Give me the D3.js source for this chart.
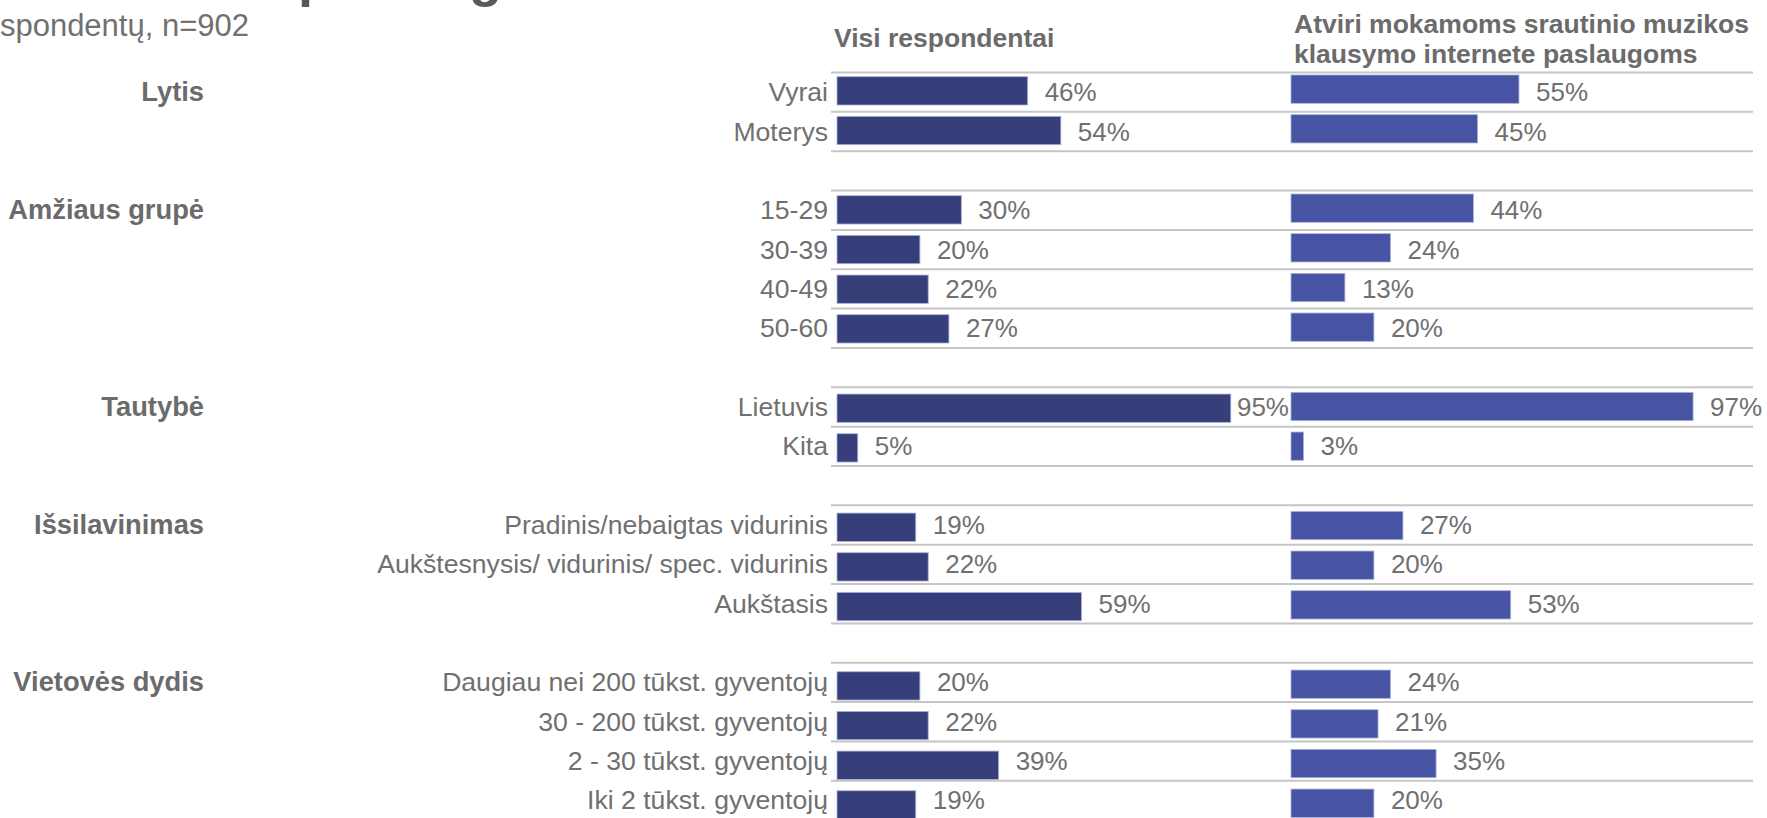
<!DOCTYPE html>
<html>
<head>
<meta charset="utf-8">
<script src="https://cdn.jsdelivr.net/npm/d3@7"></script>
<style>
  html, body { margin: 0; padding: 0; background: #fff; overflow: hidden; }
  svg { display: block; font-family: "Liberation Sans", Arial, sans-serif; }
</style>
</head>
<body>
<svg id="chart"></svg>
<script>
//data
const titleText = 'Atviri mokamoms paslaugoms';
const subtitleText = 'Bazė: visų respondentų, n=902';
const seriesAll = 'Visi respondentai';
const seriesOpen = ['Atviri mokamoms srautinio muzikos', 'klausymo internete paslaugoms'];

const groups = ['Lytis', 'Amžiaus grupė', 'Tautybė', 'Išsilavinimas', 'Vietovės dydis'];
const categories = [
  'Vyrai', 'Moterys',
  '15-29', '30-39', '40-49', '50-60',
  'Lietuvis', 'Kita',
  'Pradinis/nebaigtas vidurinis', 'Aukštesnysis/ vidurinis/ spec. vidurinis', 'Aukštasis',
  'Daugiau nei 200 tūkst. gyventojų', '30 - 200 tūkst. gyventojų', '2 - 30 tūkst. gyventojų', 'Iki 2 tūkst. gyventojų'
];
const categoryGroup = [
  'Lytis', 'Lytis',
  'Amžiaus grupė', 'Amžiaus grupė', 'Amžiaus grupė', 'Amžiaus grupė',
  'Tautybė', 'Tautybė',
  'Išsilavinimas', 'Išsilavinimas', 'Išsilavinimas',
  'Vietovės dydis', 'Vietovės dydis', 'Vietovės dydis', 'Vietovės dydis'
];
const valuesAll  = [46, 54, 30, 20, 22, 27, 95, 5, 19, 22, 59, 20, 22, 39, 19];
const valuesOpen = [55, 45, 44, 24, 13, 20, 97, 3, 27, 20, 53, 24, 21, 35, 20];

//config
const W = 1767, H = 818;
const colorAll = '#373f7a';
const colorOpen = '#4754a4';
const textGray = '#707070';
const lineGray = '#c6c6c6';

const svg = d3.select('#chart').attr('width', W).attr('height', H);

// rows, with an empty row between groups
const rows = [];
categories.forEach((c, i) => {
  if (i > 0 && categoryGroup[i] !== categoryGroup[i - 1]) rows.push({ key: 'gap' + i, blank: true });
  rows.push({ key: c, i: i, group: categoryGroup[i] });
});
const rowIndex = new Map(rows.map((r, k) => [r.key, k]));

//scales
const yBar = d3.scaleBand()
  .domain(rows.map(r => r.key))
  .range([75, 75 + rows.length * 39.67])
  .paddingInner(0).paddingOuter(0);
const barH = 28.3;

const yLine = d3.scaleLinear()
  .domain([0, rows.length])
  .range([72.5, 72.5 + rows.length * 39.35]);

const xAll = d3.scaleLinear().domain([0, 100]).range([837, 837 + 414.5]);
const xOpen = d3.scaleLinear().domain([0, 100]).range([1291, 1291 + 414.5]);

const rowMid = k => (yLine(k) + yLine(k + 1)) / 2;

// title (cut off at the top)
const title = svg.append('text')
  .attr('y', -4)
  .attr('fill', '#595959')
  .style('font-size', '54px')
  .style('font-weight', 'bold')
  .text(titleText);
const pAt = titleText.indexOf('paslaugoms');
const prefixW = title.node().getSubStringLength(0, pAt);
title.attr('x', 298 - prefixW);

svg.append('text')
  .attr('x', 249).attr('y', 36)
  .attr('text-anchor', 'end')
  .attr('fill', textGray)
  .style('font-size', '31px')
  .text(subtitleText);

// headers
svg.append('text')
  .attr('x', 834).attr('y', 47)
  .attr('fill', '#6b6b6b')
  .style('font-size', '26.5px')
  .style('font-weight', 'bold')
  .text(seriesAll);

svg.append('text')
  .attr('fill', '#6b6b6b')
  .style('font-size', '26.5px')
  .style('font-weight', 'bold')
  .selectAll('tspan')
  .data(seriesOpen)
  .join('tspan')
  .attr('x', 1294)
  .attr('y', (d, i) => 33 + i * 30)
  .text(d => d);

// gridlines
const lines = [];
groups.forEach(g => {
  const ks = rows.filter(r => r.group === g).map(r => rowIndex.get(r.key));
  for (let k = d3.min(ks); k <= d3.max(ks) + 1; k++) lines.push(k);
});
svg.append('g')
  .selectAll('line')
  .data(lines)
  .join('line')
  .attr('x1', 831).attr('x2', 1753)
  .attr('y1', d => yLine(d)).attr('y2', d => yLine(d))
  .attr('stroke', lineGray)
  .attr('stroke-width', 2);

// group labels
svg.append('g')
  .selectAll('text')
  .data(groups)
  .join('text')
  .attr('x', 204)
  .attr('y', g => rowMid(rowIndex.get(categories[categoryGroup.indexOf(g)])) + 9)
  .attr('text-anchor', 'end')
  .attr('fill', '#6b6b6b')
  .style('font-size', '27.3px')
  .style('font-weight', 'bold')
  .text(g => g);

// category labels
svg.append('g')
  .selectAll('text')
  .data(categories)
  .join('text')
  .attr('x', 828)
  .attr('y', c => rowMid(rowIndex.get(c)) + 9)
  .attr('text-anchor', 'end')
  .attr('fill', textGray)
  .style('font-size', '26.6px')
  .text(c => c);

// bars + value labels
function drawSeries(values, x, color, dy, limit) {
  const g = svg.append('g');
  g.selectAll('rect')
    .data(values)
    .join('rect')
    .attr('x', x(0))
    .attr('y', (v, i) => yBar(categories[i]) + dy)
    .attr('width', v => x(v) - x(0))
    .attr('height', barH)
    .attr('fill', color)
    .attr('stroke', '#aab0d8')
    .attr('stroke-width', 0.8);

  g.selectAll('text')
    .data(values)
    .join('text')
    .attr('y', (v, i) => rowMid(rowIndex.get(categories[i])) + 9)
    .attr('fill', textGray)
    .style('font-size', '26px')
    .text(v => v + '%')
    .each(function(v) {
      const len = this.getComputedTextLength();
      let tx = x(v) + 17;
      if (tx + len > limit) tx = limit - len;
      d3.select(this).attr('x', tx);
    });
}

drawSeries(valuesAll, xAll, colorAll, 1.7, 1289);
drawSeries(valuesOpen, xOpen, colorOpen, 0, 1766);
</script>
</body>
</html>
